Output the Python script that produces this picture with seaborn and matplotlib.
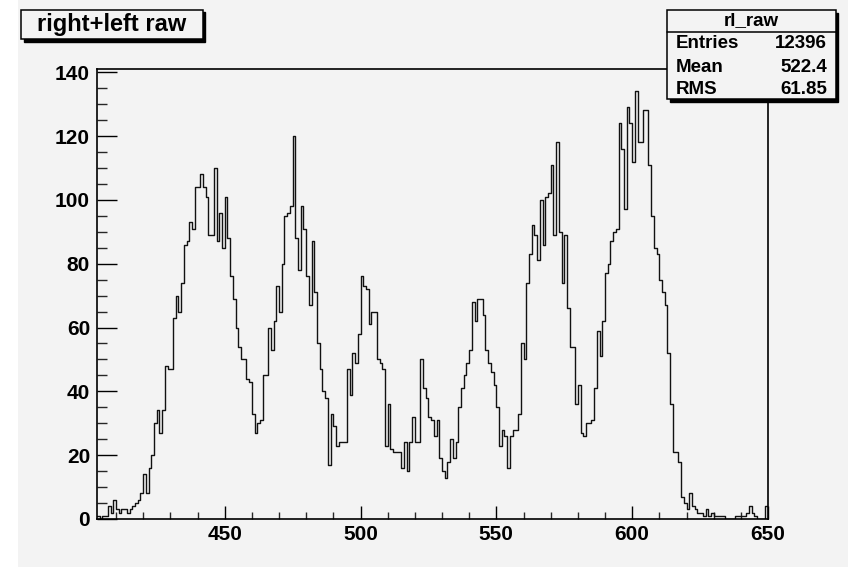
import numpy as np
import pandas as pd
import matplotlib
matplotlib.use("Agg")
import matplotlib.pyplot as plt
import seaborn as sns
from matplotlib.patches import Rectangle
from matplotlib.lines import Line2D
from matplotlib.ticker import MultipleLocator

# ---------------- data ----------------
bin_start = 403
bin_end = 650
counts = [
    1, 0, 1, 1, 4, 2, 6, 3, 2, 3,            # 403-412
    3, 2, 3, 4, 5, 6, 8, 14, 8, 16,          # 413-422
    20, 30, 34, 27, 34, 48, 47, 47, 63, 70,  # 423-432
    65, 74, 86, 87, 93, 91, 104, 104, 108, 104,  # 433-442
    101, 89, 89, 110, 87, 96, 85, 101, 88, 76,   # 443-452
    69, 60, 54, 50, 50, 44, 43, 33, 27, 30,      # 453-462
    31, 45, 45, 60, 53, 62, 73, 65, 80, 95,      # 463-472
    96, 98, 120, 88, 78, 98, 91, 76, 67, 87,     # 473-482
    71, 55, 47, 40, 38, 17, 33, 29, 23, 24,      # 483-492
    24, 24, 47, 39, 52, 49, 58, 76, 73, 72,      # 493-502
    61, 65, 65, 50, 49, 47, 23, 36, 22, 21,      # 503-512
    21, 21, 16, 24, 15, 24, 32, 24, 24, 50,      # 513-522
    41, 38, 32, 31, 26, 31, 19, 15, 13, 18,      # 523-532
    25, 19, 24, 35, 41, 45, 49, 53, 68, 62,      # 533-542
    69, 69, 64, 53, 49, 46, 42, 35, 23, 28,      # 543-552
    26, 16, 26, 28, 28, 33, 55, 50, 74, 83,      # 553-562
    92, 89, 81, 100, 86, 101, 102, 111, 89, 118, # 563-572
    90, 74, 89, 66, 54, 54, 36, 42, 27, 26,      # 573-582
    30, 30, 31, 41, 59, 51, 62, 77, 80, 87,      # 583-592
    90, 91, 124, 116, 97, 129, 124, 112, 134, 118,  # 593-602
    118, 128, 128, 111, 95, 85, 83, 75, 71, 67,  # 603-612
    52, 36, 21, 21, 18, 7, 5, 3, 8, 4,           # 613-622
    3, 2, 2, 1, 3, 1, 2, 1, 1, 1,                # 623-632
    1, 0, 0, 0, 0, 1, 1, 1, 1, 2,                # 633-642
    4, 2, 1, 0, 0, 0, 4,                         # 643-649
]
assert len(counts) == bin_end - bin_start

x_ticks = [450, 500, 550, 600, 650]
y_ticks = [0, 20, 40, 60, 80, 100, 120, 140]
title_text = "right+left raw"
stats_name = "rl_raw"
stats_labels = ["Entries", "Mean", "RMS"]
stats_values = ["12396", "522.4", "61.85"]

# ---------------- style ----------------
sns.set_theme(style="ticks")
plt.rcParams['font.family'] = ['Liberation Sans', 'DejaVu Sans']
plt.rcParams['font.weight'] = 'bold'
bg = '#f3f3f3'

W, H = 848, 569
fig = plt.figure(figsize=(W / 100, H / 100), dpi=100, facecolor='white')


def fx(px):
    return px / W


def fy(py):
    return 1 - py / H


# gray canvas (white strip on the left and bottom edge)
fig.add_artist(Rectangle((fx(18), fy(567)), 1 - fx(18), fy(0) - fy(567),
                         transform=fig.transFigure, facecolor=bg,
                         edgecolor='none', zorder=0))

ax = fig.add_axes([fx(97), fy(519), fx(768) - fx(97), fy(69) - fy(519)])
ax.set_facecolor(bg)

df = pd.DataFrame({
    "x": np.arange(bin_start, bin_end) + 0.5,
    "n": counts,
})
sns.histplot(data=df, x="x", weights="n", binwidth=1,
             binrange=(bin_start, bin_end), element="step",
             fill=False, color="#111111", linewidth=1.0, ax=ax)

ax.set_xlim(bin_start, bin_end)
ax.set_ylim(0, 141)
ax.set_xlabel("")
ax.set_ylabel("")
ax.set_xticks(x_ticks)
ax.set_yticks(y_ticks)
ax.xaxis.set_minor_locator(MultipleLocator(10))
ax.yaxis.set_minor_locator(MultipleLocator(5))
for s in ax.spines.values():
    s.set_visible(True)
    s.set_color("black")
    s.set_linewidth(1.2)
ax.tick_params(axis='y', which='major', direction='in', length=14.5, width=1,
               labelsize=15, pad=5, right=False, colors='black')
ax.tick_params(axis='y', which='minor', direction='in', length=7.2, width=1,
               right=False)
ax.tick_params(axis='x', which='major', direction='in', length=9.5, width=1,
               labelsize=15, pad=4, top=False, colors='black')
ax.tick_params(axis='x', which='minor', direction='in', length=4.7, width=1,
               top=False)
for lab in ax.get_xticklabels() + ax.get_yticklabels():
    lab.set_fontweight('bold')


def shadow_box(x0, y0, x1, y1, off=2.5):
    fig.add_artist(Rectangle((fx(x0 + off), fy(y1 + off)), fx(x1) - fx(x0),
                             fy(y0) - fy(y1), transform=fig.transFigure,
                             facecolor='black', edgecolor='black', lw=1))
    fig.add_artist(Rectangle((fx(x0), fy(y1)), fx(x1) - fx(x0),
                             fy(y0) - fy(y1), transform=fig.transFigure,
                             facecolor=bg, edgecolor='black', lw=1.1))


# title box
shadow_box(21, 10, 203, 39)
fig.text(fx(112), fy(25), title_text, ha='center', va='center',
         fontsize=17, fontweight='bold', color='black')

# stats box
shadow_box(667, 10, 836, 99)
fig.add_artist(Line2D([fx(667), fx(836)], [fy(32), fy(32)],
                      transform=fig.transFigure, color='black', lw=1.1))
fig.text(fx(751.5), fy(21), stats_name, ha='center', va='center',
         fontsize=13.5, fontweight='bold', color='black')
row_y = [44, 67, 90]
for lab, val, yy in zip(stats_labels, stats_values, row_y):
    fig.text(fx(676), fy(yy), lab, ha='left', va='center', fontsize=13.5,
             fontweight='bold', color='black')
    fig.text(fx(827), fy(yy), val, ha='right', va='center', fontsize=13.5,
             fontweight='bold', color='black')

fig.savefig("out.png", dpi=100, facecolor='white')
